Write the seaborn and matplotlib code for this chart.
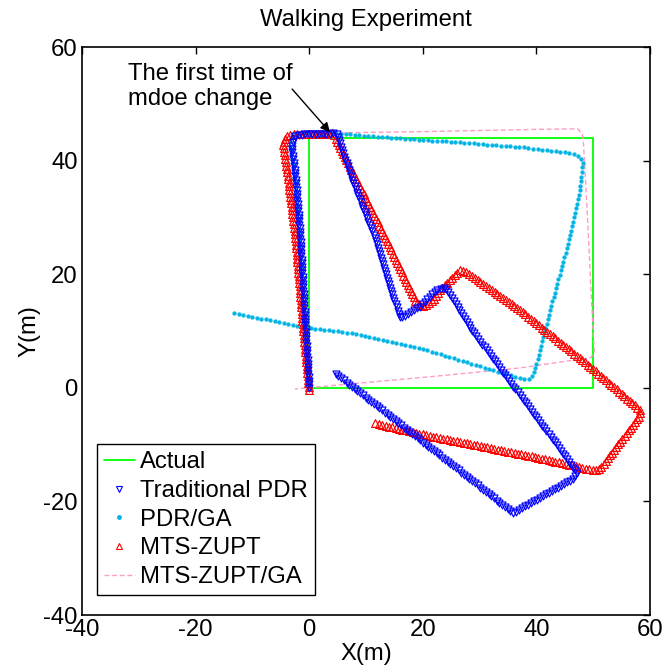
import numpy as np
import pandas as pd
import matplotlib
matplotlib.use("Agg")
import matplotlib.pyplot as plt
import seaborn as sns
from matplotlib.patheffects import AbstractPathEffect
from matplotlib.markers import MarkerStyle
from matplotlib.path import Path
from matplotlib.transforms import Affine2D, IdentityTransform
from matplotlib.lines import Line2D
from matplotlib.colors import to_rgba

# ---------------- trajectories (metres) ----------------
actual_x = [0, 0, 50, 50, 0]
actual_y = [0, 44, 44, 0, 0]

pdr_x = [0.0, -0.6, -1.6, -2.4, -3.1, -2.6, -1.0, 4.8, 7.7, 11.9, 14.8, 16.0, 17.0,
         19.5, 22.5, 24.0, 28.9, 34.1, 35.9, 41.0, 46.4, 47.2, 46.6, 35.9, 4.2]
pdr_y = [0.0, 10.0, 27.0, 37.0, 42.5, 44.3, 44.6, 44.8, 36.3, 25.5, 16.0, 12.2, 12.8,
         14.3, 17.3, 17.6, 9.8, 2.7, 0.3, -6.6, -13.9, -14.9, -16.0, -22.1, 2.8]

ga_x = [0.0, -0.7, -1.5, -2.2, -3.0, -3.4, -3.0, -1.0, 4.8, 15.0, 25.3, 37.1, 46.4,
        47.8, 48.2, 47.4, 45.3, 42.9, 40.6, 39.6, 38.8, 37.5, 34.1, 19.5, 7.8, 0.0, -13.4]
ga_y = [0.0, 9.6, 22.0, 33.0, 40.0, 43.1, 44.4, 44.8, 44.8, 44.0, 43.3, 42.4, 41.3,
        40.6, 39.5, 33.1, 24.3, 15.5, 6.7, 2.6, 1.5, 1.6, 2.6, 7.0, 9.6, 10.5, 13.2]

mts_x = [0.0, -1.0, -2.5, -4.0, -4.6, -3.8, -2.0, 4.2, 7.7, 13.6, 18.9, 20.0, 21.5,
         23.0, 26.5, 27.5, 37.1, 48.8, 57.6, 58.4, 58.0, 51.2, 50.4, 39.4, 21.8, 11.6]
mts_y = [-0.4, 9.6, 27.2, 38.9, 43.2, 44.5, 44.7, 44.8, 37.8, 26.0, 14.9, 14.3, 15.0,
         17.2, 20.7, 20.5, 13.7, 4.3, -3.3, -4.2, -5.2, -14.2, -14.6, -12.1, -8.6, -6.25]

mtsga_x = [0.0, -1.2, -2.6, -3.6, -4.0, -3.3, -1.0, 19.5, 40.0, 47.3, 48.1, 48.3,
           49.0, 49.7, 50.2, 49.6, 37.1, 21.8, -2.5]
mtsga_y = [0.0, 10.0, 27.0, 38.0, 43.5, 44.6, 44.8, 45.1, 45.5, 45.6, 44.6, 43.0,
           30.0, 15.5, 6.3, 5.3, 3.5, 2.0, -0.2]

series_labels = ["Actual", "Traditional PDR", "PDR/GA", "MTS-ZUPT", "MTS-ZUPT/GA"]
tick_values = [-40, -20, 0, 20, 40, 60]

C_ACTUAL = "#00FF00"
C_PDR = "#0000FF"
C_GA = "#00B4E6"
C_MTS = "#FF0000"
C_MTSGA = "#FF9CC8"


class MarkerTrail(AbstractPathEffect):
    """Render a line as a chain of marker glyphs stamped at a fixed screen spacing."""

    def __init__(self, marker, size, spacing, color, lw=0.8, filled=False):
        super().__init__()
        self.marker = MarkerStyle(marker)
        self.size = size
        self.spacing = spacing
        self.color = color
        self.lw = lw
        self.filled = filled

    def draw_path(self, renderer, gc, tpath, affine, rgbFace=None):
        verts = affine.transform(tpath.vertices)
        seg = np.hypot(*np.diff(verts, axis=0).T)
        dist = np.concatenate([[0.0], np.cumsum(seg)])
        step = renderer.points_to_pixels(self.spacing)
        pos = np.arange(0.0, dist[-1] + 1e-9, step)
        pts = np.column_stack([np.interp(pos, dist, verts[:, 0]),
                               np.interp(pos, dist, verts[:, 1])])
        gc0 = renderer.new_gc()
        gc0.copy_properties(gc)
        gc0.set_foreground(self.color)
        gc0.set_linewidth(self.lw)
        gc0.set_dashes(0, None)
        w = renderer.points_to_pixels(self.size)
        mtrans = Affine2D(self.marker.get_transform().get_matrix()).scale(w)
        face = to_rgba(self.color) if self.filled else None
        renderer.draw_markers(gc0, self.marker.get_path(), mtrans,
                              Path(pts), IdentityTransform(), face)
        gc0.restore()


sns.set_theme(style="white")
plt.rcParams["font.family"] = ["Liberation Sans", "DejaVu Sans"]
plt.rcParams["axes.unicode_minus"] = False
plt.rcParams["text.color"] = "black"
plt.rcParams["axes.labelcolor"] = "black"
plt.rcParams["xtick.color"] = "black"
plt.rcParams["ytick.color"] = "black"
FS = 17.2

fig = plt.figure(figsize=(6.65, 6.72), dpi=100)
ax = fig.add_axes([0.1233, 0.0848, 0.8541, 0.8452])


def draw(xs, ys, color, lw=1.0):
    df = pd.DataFrame({"x": xs, "y": ys})
    sns.lineplot(data=df, x="x", y="y", sort=False, estimator=None, ax=ax,
                 color=color, linewidth=lw, legend=False)
    return ax.lines[-1]


draw(actual_x, actual_y, C_ACTUAL, lw=1.3)

pink = draw(mtsga_x, mtsga_y, C_MTSGA, lw=1.0)
pink.set_dashes((3.5, 2.0))

ga_line = draw(ga_x, ga_y, C_GA)
ga_line.set_path_effects([MarkerTrail("o", 2.7, 3.3, C_GA, lw=0.3, filled=True)])

mts_line = draw(mts_x, mts_y, C_MTS)
mts_line.set_path_effects([MarkerTrail("^", 5.6, 2.5, C_MTS, lw=0.85)])

pdr_line = draw(pdr_x, pdr_y, C_PDR)
pdr_line.set_path_effects([MarkerTrail("v", 5.0, 2.5, C_PDR, lw=0.85)])

ax.set_xlim(-40, 60)
ax.set_ylim(-40, 60)
ax.set_xticks(tick_values)
ax.set_yticks(tick_values)
ax.tick_params(direction="in", top=True, right=True, length=5, width=1,
               labelsize=FS, pad=3, colors="black")
for sp in ax.spines.values():
    sp.set_color("black")
    sp.set_linewidth(1.2)

ax.set_title("Walking Experiment", fontsize=FS, pad=15, color="black")
ax.set_xlabel("X(m)", fontsize=FS, labelpad=1)
ax.set_ylabel("Y(m)", fontsize=FS, labelpad=2)

ax.text(-31.9, 53.0, "The first time of\nmdoe change", fontsize=FS,
        ha="left", va="center", linespacing=1.2, color="black")
ax.annotate("", xy=(3.66, 45.0), xytext=(-3.0, 52.6),
            arrowprops=dict(arrowstyle="-|>", color="black", lw=1.0,
                            mutation_scale=14, shrinkA=0, shrinkB=0))

handles = [
    Line2D([], [], color=C_ACTUAL, lw=1.3),
    Line2D([], [], ls="none", marker="v", ms=4.3, mfc="none", mec=C_PDR, mew=0.8),
    Line2D([], [], ls="none", marker="o", ms=2.5, mfc=C_GA, mec=C_GA),
    Line2D([], [], ls="none", marker="^", ms=4.3, mfc="none", mec=C_MTS, mew=0.8),
    Line2D([], [], color=C_MTSGA, lw=1.0, dashes=(3.5, 2.0)),
]
leg = ax.legend(handles, series_labels, loc="lower left",
                bbox_to_anchor=(0.026, 0.035), borderaxespad=0, fontsize=FS,
                frameon=True, fancybox=False, edgecolor="black", framealpha=1,
                handlelength=1.3, handletextpad=0.2, labelspacing=0.28,
                borderpad=0.3, labelcolor="black")
leg.get_frame().set_linewidth(1.0)

fig.savefig("out.png", dpi=100)
